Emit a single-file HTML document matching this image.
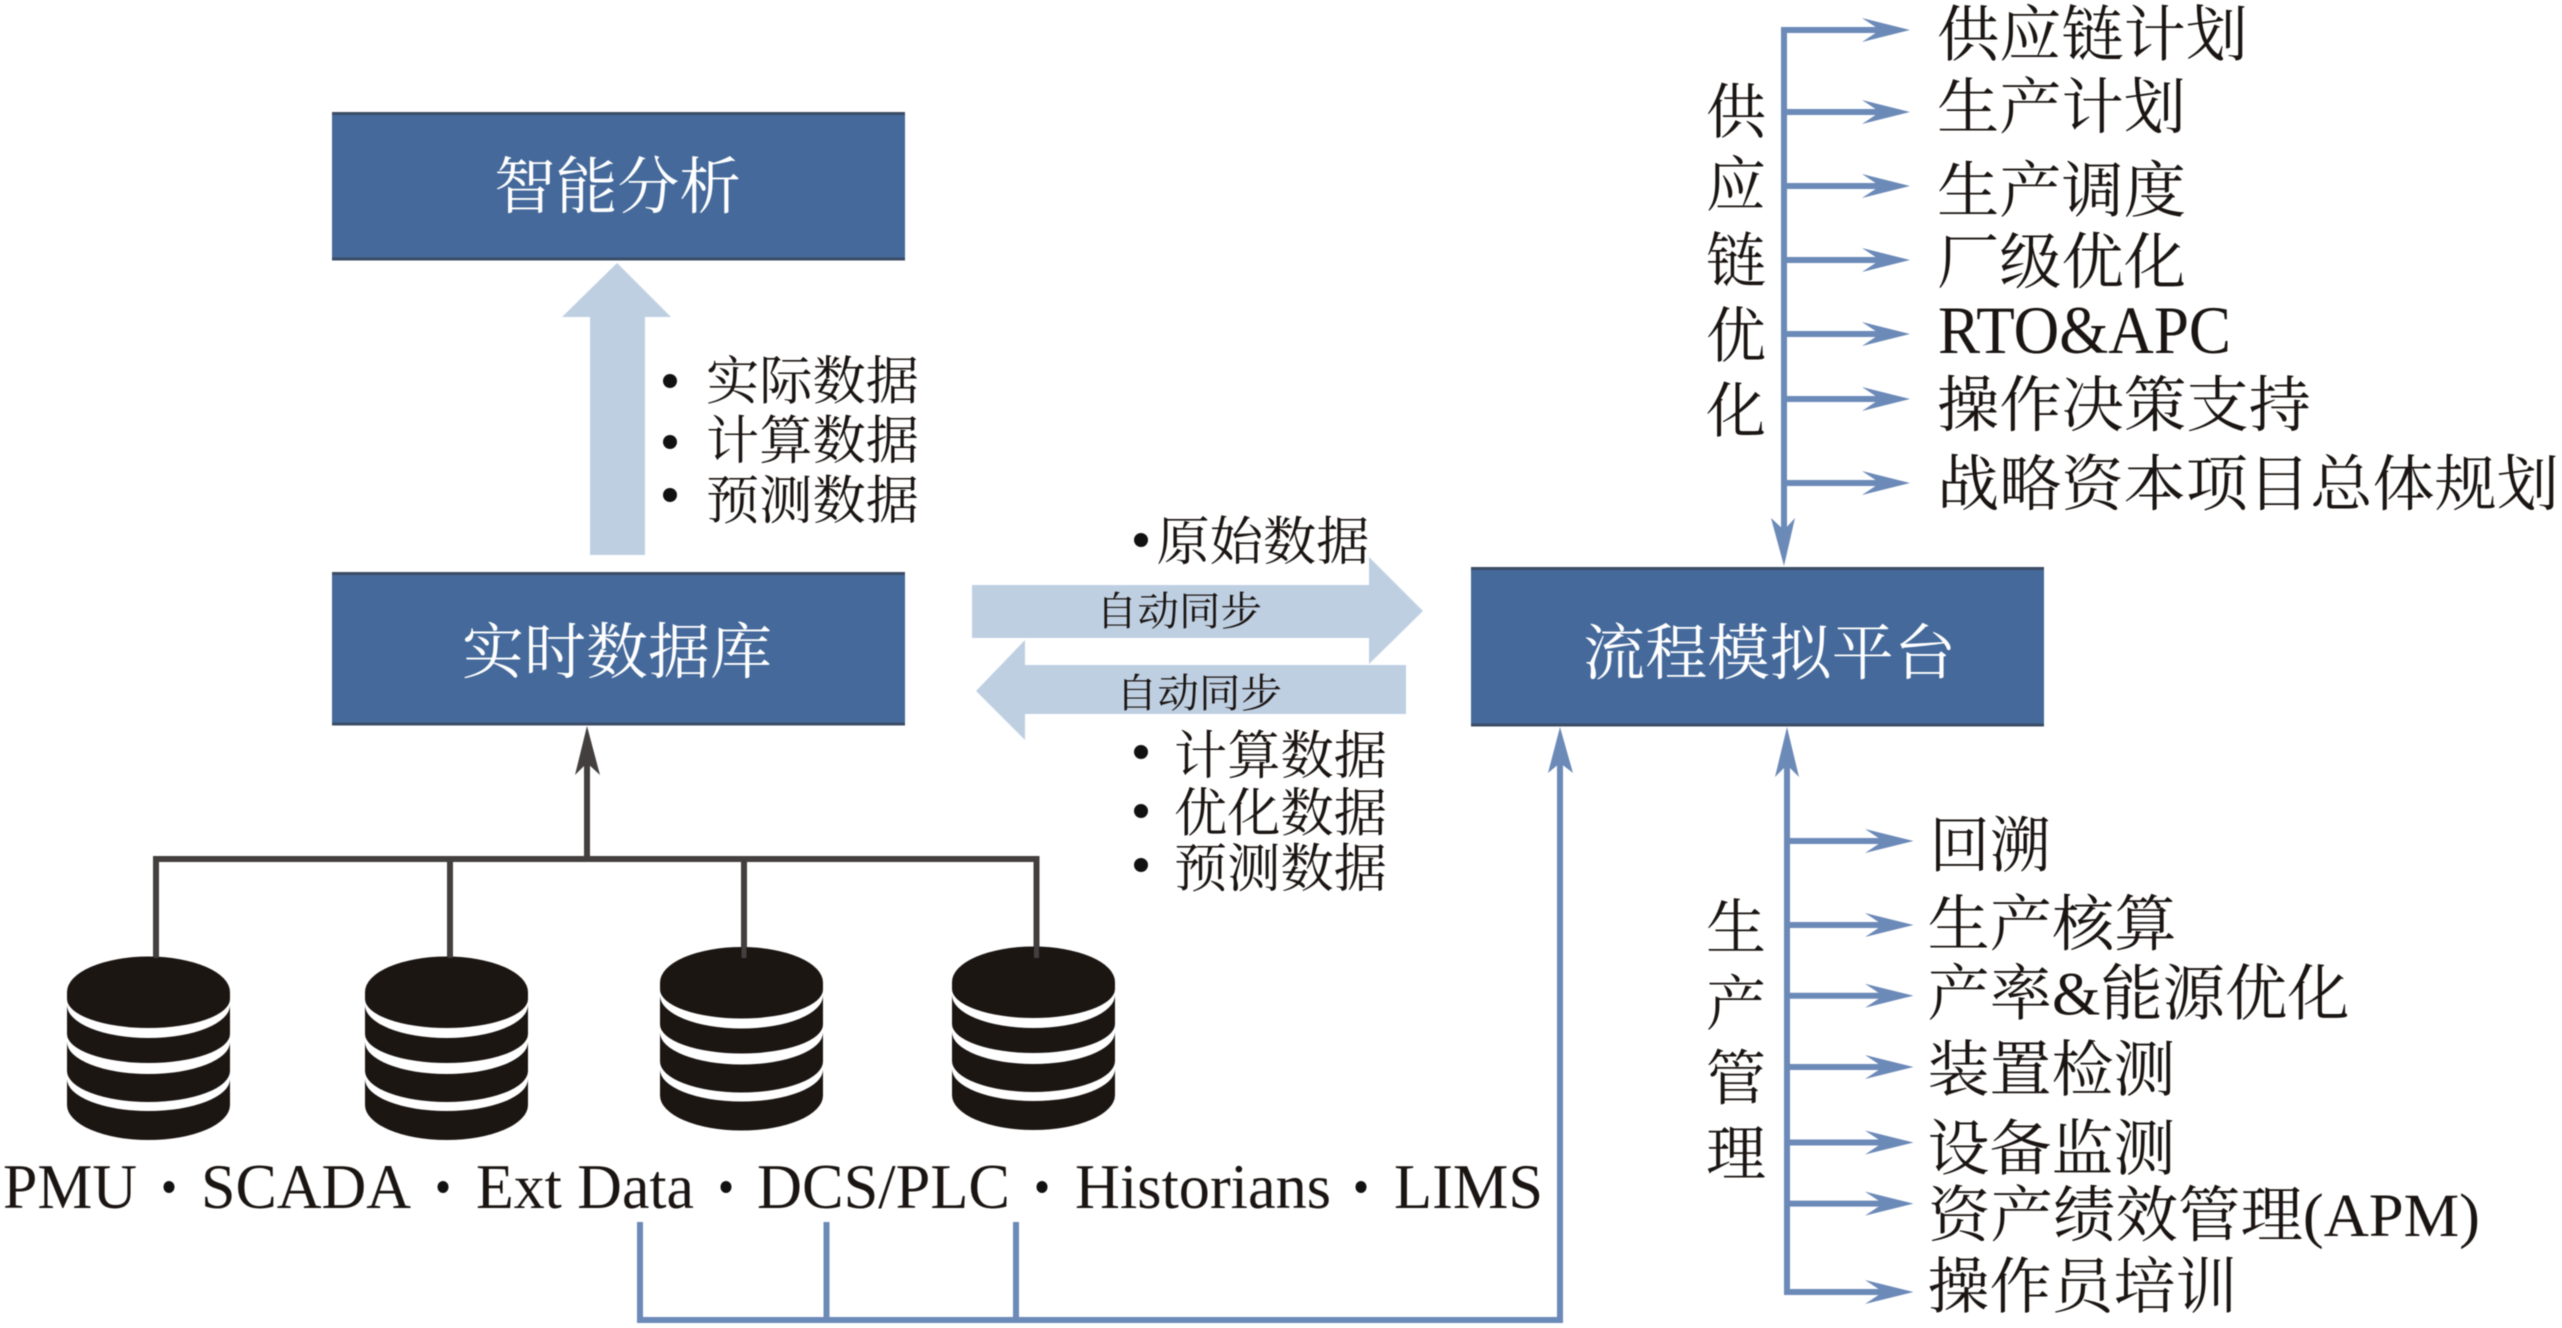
<!DOCTYPE html>
<html lang="zh"><head><meta charset="utf-8"><title>流程模拟平台</title>
<style>
html,body{margin:0;padding:0;background:#fff}
svg{display:block;filter:blur(0.5px)}
text{font-family:"Liberation Serif","Noto Serif CJK SC",serif;fill:#1a1512}
.w{fill:#fff}
</style></head><body>
<svg xmlns="http://www.w3.org/2000/svg" width="2562" height="1328" viewBox="0 0 2562 1328">
<defs>
<g id="cyl">
<ellipse cx="148.5" cy="992" rx="81.5" ry="35.5" fill="#1c1613"/>
<path d="M67,992H230V1105A81.5,35 0 0 1 67,1105Z" fill="#1c1613"/>
<path d="M67,1005A81.5,33 0 0 0 230,1005L230,999A81.5,29 0 0 1 67,999Z" fill="#fff"/>
<path d="M67,1042A81.5,32 0 0 0 230,1042L230,1034A81.5,29 0 0 1 67,1034Z" fill="#fff"/>
<path d="M67,1079A81.5,32 0 0 0 230,1079L230,1071A81.5,31 0 0 1 67,1071Z" fill="#fff"/>
</g>
</defs>

<!-- boxes -->
<g fill="#44699a">
<rect x="332" y="112" width="573" height="148"/>
<rect x="332" y="572" width="573" height="153"/>
<rect x="1471" y="567" width="573" height="159"/>
</g>
<g stroke="#3b4c66" stroke-width="3" fill="none">
<path d="M332,113.5H905M332,259H905M332,573.5H905M332,724H905M1471,568.5H2044M1471,725H2044"/>
</g>
<text class="w" x="494" y="208" font-size="62" textLength="247" lengthAdjust="spacingAndGlyphs">智能分析</text>
<text class="w" x="462" y="673" font-size="61" textLength="310" lengthAdjust="spacingAndGlyphs">实时数据库</text>
<text class="w" x="1583" y="674" font-size="61" textLength="373" lengthAdjust="spacingAndGlyphs">流程模拟平台</text>

<!-- light arrows -->
<g fill="#bfcfe2">
<polygon points="617,263 671,317 645,317 645,555 590,555 590,317 562,317"/>
<polygon points="972,585 1369,585 1369,557 1423,611 1369,664 1369,638 972,638"/>
<polygon points="976,691 1025,640 1025,665 1406,665 1406,714 1025,714 1025,740"/>
</g>
<text x="1096" y="625" font-size="40" textLength="166" lengthAdjust="spacingAndGlyphs">自动同步</text>
<text x="1116" y="707" font-size="40" textLength="166" lengthAdjust="spacingAndGlyphs">自动同步</text>

<!-- bullets lists -->
<g fill="#111">
<circle cx="670" cy="381" r="7"/><circle cx="670" cy="442" r="7"/><circle cx="670" cy="495" r="7"/>
<circle cx="1141" cy="540" r="7"/><circle cx="1141" cy="752" r="7"/><circle cx="1141" cy="811" r="7"/><circle cx="1141" cy="865" r="7"/>
<ellipse cx="169" cy="1187" rx="5.5" ry="6"/><ellipse cx="443" cy="1187" rx="5.5" ry="6"/><ellipse cx="726" cy="1187" rx="5.5" ry="6"/><ellipse cx="1042" cy="1187" rx="5.5" ry="6"/><ellipse cx="1361" cy="1187" rx="5.5" ry="6"/>
</g>
<text x="706" y="399" font-size="52.5" textLength="213" lengthAdjust="spacingAndGlyphs">实际数据</text>
<text x="706" y="458.5" font-size="52.5" textLength="213" lengthAdjust="spacingAndGlyphs">计算数据</text>
<text x="706" y="518.5" font-size="52.5" textLength="213" lengthAdjust="spacingAndGlyphs">预测数据</text>
<text x="1156.5" y="559.5" font-size="52.5" textLength="213" lengthAdjust="spacingAndGlyphs">原始数据</text>
<text x="1174" y="773.5" font-size="52.5" textLength="213" lengthAdjust="spacingAndGlyphs">计算数据</text>
<text x="1174" y="831" font-size="52.5" textLength="213" lengthAdjust="spacingAndGlyphs">优化数据</text>
<text x="1174" y="886.5" font-size="52.5" textLength="213" lengthAdjust="spacingAndGlyphs">预测数据</text>

<!-- dark connector -->
<g fill="none" stroke="#423f3e" stroke-width="6">
<path d="M156,958V859H1036.5V958"/><path d="M450,859V958"/><path d="M744,859V958"/><path d="M587,859V750"/>
</g>
<polygon points="587,726 600,775 587,763 575,775" fill="#423f3e"/>

<!-- cylinders -->
<use href="#cyl"/>
<use href="#cyl" x="298"/>
<use href="#cyl" x="593" y="-9.5"/>
<use href="#cyl" x="885" y="-10"/>
<g fill="none" stroke="#423f3e" stroke-width="5"><path d="M156,940V958"/><path d="M450,940V958"/><path d="M744,940V958"/><path d="M1036.5,930V958"/></g>

<!-- sources -->
<text x="3" y="1208" font-size="64" textLength="134" lengthAdjust="spacingAndGlyphs">PMU</text>
<text x="201" y="1208" font-size="64" textLength="210" lengthAdjust="spacingAndGlyphs">SCADA</text>
<text x="476" y="1208" font-size="64" textLength="218" lengthAdjust="spacingAndGlyphs">Ext Data</text>
<text x="757" y="1208" font-size="64" textLength="253" lengthAdjust="spacingAndGlyphs">DCS/PLC</text>
<text x="1075" y="1208" font-size="64" textLength="256" lengthAdjust="spacingAndGlyphs">Historians</text>
<text x="1394" y="1208" font-size="64" textLength="149" lengthAdjust="spacingAndGlyphs">LIMS</text>

<!-- blue connectors -->
<g fill="none" stroke="#6c8ab8" stroke-width="6">
<path d="M640,1222V1320H1560V760"/><path d="M826.5,1222V1320"/><path d="M1016,1222V1320"/>
<path d="M1784,27V545"/>
<path d="M1784,30H1885M1784,112H1885M1784,186H1885M1784,260H1885M1784,334H1885M1784,399H1885M1784,483H1885"/>
<path d="M1787,760V1295"/>
<path d="M1787,841H1885M1787,925H1885M1787,995.7H1885M1787,1067H1885M1787,1142.5H1885M1787,1203.6H1885M1787,1292H1885"/>
</g>
<g fill="#6c8ab8">
<polygon points="1560,727 1573,773 1560,763 1548,773"/>
<polygon points="1787,727 1799,777 1787,765 1775,777"/>
<polygon points="1784,566 1771,518 1784,530 1795,518"/>
<polygon points="1910,30 1862,18 1880,30 1862,42"/>
<polygon points="1910,112 1862,100 1880,112 1862,124"/>
<polygon points="1910,186 1862,174 1880,186 1862,198"/>
<polygon points="1910,260 1862,248 1880,260 1862,272"/>
<polygon points="1910,334 1862,322 1880,334 1862,346"/>
<polygon points="1910,399 1862,387 1880,399 1862,411"/>
<polygon points="1910,483 1862,471 1880,483 1862,495"/>
<polygon points="1913.5,841 1865,829 1883,841 1865,853"/>
<polygon points="1913.5,925 1865,913 1883,925 1865,937"/>
<polygon points="1913.5,995.7 1865,983.7 1883,995.7 1865,1007.7"/>
<polygon points="1913.5,1067 1865,1055 1883,1067 1865,1079"/>
<polygon points="1913.5,1142.5 1865,1130.5 1883,1142.5 1865,1154.5"/>
<polygon points="1913.5,1203.6 1865,1191.6 1883,1203.6 1865,1215.6"/>
<polygon points="1913.5,1292 1865,1280 1883,1292 1865,1304"/>
</g>

<!-- vertical labels -->
<g font-size="60">
<text x="1706" y="133">供</text><text x="1706" y="206">应</text><text x="1706" y="282">链</text><text x="1706" y="357">优</text><text x="1706" y="432">化</text>
<text x="1706" y="948.5">生</text><text x="1706" y="1025">产</text><text x="1706" y="1099.5">管</text><text x="1706" y="1175">理</text>
</g>

<!-- right lists -->
<g font-size="61">
<text x="1937" y="55.5" textLength="311" lengthAdjust="spacingAndGlyphs">供应链计划</text>
<text x="1937" y="128" textLength="249" lengthAdjust="spacingAndGlyphs">生产计划</text>
<text x="1937" y="211.5" textLength="249" lengthAdjust="spacingAndGlyphs">生产调度</text>
<text x="1937" y="283" textLength="249" lengthAdjust="spacingAndGlyphs">厂级优化</text>
<text x="1938" y="353" font-size="68" textLength="293" lengthAdjust="spacingAndGlyphs">RTO&amp;APC</text>
<text x="1937" y="426" textLength="374" lengthAdjust="spacingAndGlyphs">操作决策支持</text>
<text x="1937" y="505" textLength="622" lengthAdjust="spacingAndGlyphs">战略资本项目总体规划</text>

<text x="1929.5" y="866.5" textLength="121" lengthAdjust="spacingAndGlyphs">回溯</text>
<text x="1927.5" y="945" textLength="249" lengthAdjust="spacingAndGlyphs">生产核算</text>
<text x="1927.5" y="1014.5" textLength="422" lengthAdjust="spacingAndGlyphs">产率&amp;能源优化</text>
<text x="1927.5" y="1090.5" textLength="248" lengthAdjust="spacingAndGlyphs">装置检测</text>
<text x="1927.5" y="1169.5" textLength="248" lengthAdjust="spacingAndGlyphs">设备监测</text>
<text x="1928" y="1236" textLength="552" lengthAdjust="spacingAndGlyphs">资产绩效管理(APM)</text>
<text x="1927.5" y="1307.5" textLength="310" lengthAdjust="spacingAndGlyphs">操作员培训</text>
</g>
</svg>
</body></html>
